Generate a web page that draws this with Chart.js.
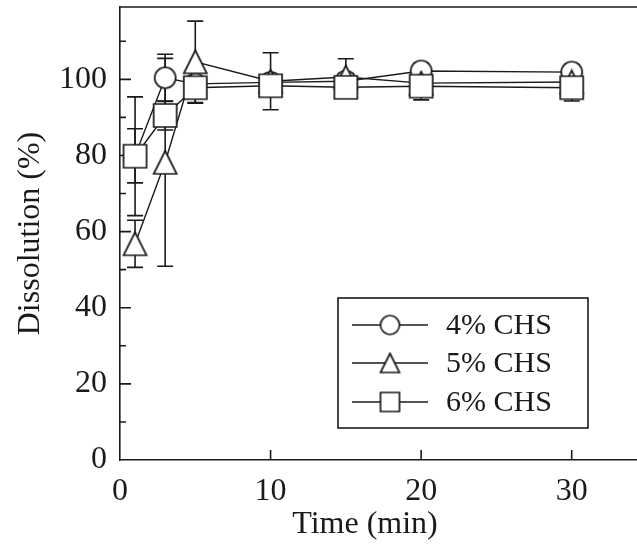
<!DOCTYPE html>
<html>
<head>
<meta charset="utf-8">
<script src="https://cdn.jsdelivr.net/npm/chart.js@4.4.1/dist/chart.umd.min.js"></script>
<style>
    html, body { margin: 0; padding: 0; background: #fff; overflow: hidden; }
    #wrap { position: relative; width: 660px; height: 552px; }
</style>
</head>
<body>
<div id="wrap"><canvas id="dissolutionChart" width="660" height="552"></canvas></div>
<script>
// ============================================
// DATA
// ============================================
const timePoints = [1, 3, 5, 10, 15, 20, 30];
const seriesNames = ['4% CHS', '5% CHS', '6% CHS'];

const chs4Values = [79.9, 100.4, 98.8, 99.2, 99.5, 102.2, 101.9];
const chs4Errors = [7.1, 6.2, 3, 2, 2, 2, 2];
const chs5Values = [56.8, 78.2, 104.6, 99.5, 100.6, 99, 99.3];
const chs5Errors = [6.2, 27.3, 10.7, 7.5, 4.8, 2, 2];
const chs6Values = [79.8, 90.5, 97.8, 98.3, 97.9, 98.2, 97.8];
const chs6Errors = [15.6, 3.8, 4.1, 2.5, 2.5, 3.6, 3.5];

const xTickValues = [0, 10, 20, 30];
const yTickValues = [0, 20, 40, 60, 80, 100];
const yMinorTickValues = [10, 30, 50, 70, 90, 110];

const FONT = "'Liberation Serif', 'Times New Roman', serif";
const INK = '#1a1a1a';

/**
 * Marker images (white filled, black outline)
 */
function makeMarker(shape, size) {
    const c = document.createElement('canvas');
    c.width = size + 4;
    c.height = size + 4;
    const g = c.getContext('2d');
    const m = c.width / 2, h = size / 2;
    g.fillStyle = '#fff';
    g.strokeStyle = INK;
    g.lineWidth = 1.7;
    g.beginPath();
    if (shape === 'circle') {
        g.arc(m, m, h, 0, Math.PI * 2);
    } else if (shape === 'triangle') {
        g.moveTo(m, m - h);
        g.lineTo(m + h, m + h);
        g.lineTo(m - h, m + h);
        g.closePath();
    } else {
        g.rect(m - h, m - h, size, size);
    }
    g.fill();
    g.stroke();
    return c;
}

const markers = {
    circle: makeMarker('circle', 21),
    triangle: makeMarker('triangle', 23),
    square: makeMarker('square', 23)
};
const legendMarkers = {
    circle: makeMarker('circle', 19),
    triangle: makeMarker('triangle', 19),
    square: makeMarker('square', 19)
};

function toPoints(values) {
    return timePoints.map((t, i) => ({ x: t, y: values[i] }));
}

function makeDataset(label, values, errors, shape, order) {
    return {
        label: label,
        data: toPoints(values),
        errors: errors,
        shape: shape,
        order: order,
        borderColor: INK,
        borderWidth: 1.4,
        backgroundColor: '#fff',
        fill: false,
        tension: 0,
        pointStyle: markers[shape],
        // image markers ignore the radius; keep it small so the layout does not pad for it
        pointRadius: 3,
        pointBorderWidth: 0,
        pointHoverRadius: 3
    };
}

/**
 * Error bars, drawn under the lines and markers
 */
const errorBars = {
    id: 'errorBars',
    beforeDatasetsDraw(chart) {
        const { ctx, scales: { x, y } } = chart;
        ctx.save();
        ctx.strokeStyle = INK;
        ctx.lineWidth = 1.6;
        chart.data.datasets.forEach(ds => {
            ds.data.forEach((p, i) => {
                const e = ds.errors[i];
                const px = x.getPixelForValue(p.x);
                const top = y.getPixelForValue(p.y + e);
                const bot = y.getPixelForValue(p.y - e);
                ctx.beginPath();
                ctx.moveTo(px, top); ctx.lineTo(px, bot);
                ctx.moveTo(px - 8, top); ctx.lineTo(px + 8, top);
                ctx.moveTo(px - 8, bot); ctx.lineTo(px + 8, bot);
                ctx.stroke();
            });
        });
        ctx.restore();
    }
};

/**
 * Top frame line and inward ticks
 */
const frameTicks = {
    id: 'frameTicks',
    beforeDatasetsDraw(chart) {
        const { ctx, chartArea: a, scales: { x, y } } = chart;
        ctx.save();
        ctx.strokeStyle = INK;
        ctx.lineWidth = 1.6;
        ctx.beginPath();
        ctx.moveTo(a.left, a.top);
        ctx.lineTo(chart.width, a.top);
        xTickValues.forEach(v => {
            if (v === 0) return;
            const px = x.getPixelForValue(v);
            ctx.moveTo(px, a.bottom);
            ctx.lineTo(px, a.bottom - 10);
        });
        yTickValues.forEach(v => {
            if (v === 0) return;
            const py = y.getPixelForValue(v);
            ctx.moveTo(a.left, py);
            ctx.lineTo(a.left + 11, py);
        });
        yMinorTickValues.forEach(v => {
            const py = y.getPixelForValue(v);
            ctx.moveTo(a.left, py);
            ctx.lineTo(a.left + 6, py);
        });
        ctx.stroke();
        ctx.restore();
    }
};

/**
 * Legend box inside the plot + x axis title
 */
const boxLegend = {
    id: 'boxLegend',
    afterDraw(chart) {
        const { ctx } = chart;
        ctx.save();
        ctx.strokeStyle = INK;
        ctx.lineWidth = 1.6;
        ctx.strokeRect(338, 298, 250, 130);

        const rows = [325, 363, 402];
        chart.data.datasets.forEach((ds, i) => {
            const ry = rows[i];
            ctx.beginPath();
            ctx.lineWidth = 1.4;
            ctx.moveTo(352, ry);
            ctx.lineTo(428, ry);
            ctx.stroke();
            const img = legendMarkers[ds.shape];
            ctx.drawImage(img, 390 - img.width / 2, ry - img.height / 2);
            ctx.fillStyle = INK;
            ctx.font = '30px ' + FONT;
            ctx.textAlign = 'left';
            ctx.textBaseline = 'middle';
            ctx.fillText(ds.label, 446, ry + 1);
        });

        // x axis title
        ctx.font = '32px ' + FONT;
        ctx.textAlign = 'center';
        ctx.textBaseline = 'middle';
        ctx.fillStyle = INK;
        ctx.fillText('Time (min)', 365, 525);
        ctx.restore();
    }
};

const chartCtx = document.getElementById('dissolutionChart');
const dissolutionChart = new Chart(chartCtx, {
    type: 'line',
    data: {
        datasets: [
            makeDataset(seriesNames[0], chs4Values, chs4Errors, 'circle', 3),
            makeDataset(seriesNames[1], chs5Values, chs5Errors, 'triangle', 2),
            makeDataset(seriesNames[2], chs6Values, chs6Errors, 'square', 1)
        ]
    },
    options: {
        responsive: false,
        animation: false,
        layout: { padding: { top: 7, right: 13, left: 0, bottom: 0 } },
        plugins: {
            legend: { display: false },
            tooltip: { enabled: false }
        },
        scales: {
            x: {
                type: 'linear',
                min: 0,
                max: 35,
                afterBuildTicks: s => { s.ticks = xTickValues.map(v => ({ value: v })); },
                afterFit: s => { s.height = 92; s.paddingLeft = 0; s.paddingRight = 0; },
                grid: { display: false, drawTicks: false },
                border: { display: true, color: INK, width: 1.6 },
                ticks: {
                    color: INK,
                    padding: 12,
                    maxRotation: 0,
                    font: { family: FONT, size: 32 }
                }
            },
            y: {
                type: 'linear',
                min: 0,
                max: 119,
                afterBuildTicks: s => { s.ticks = yTickValues.map(v => ({ value: v })); },
                afterFit: s => { s.width = 120; s.paddingTop = 0; s.paddingBottom = 0; },
                grid: { display: false, drawTicks: false },
                border: { display: true, color: INK, width: 1.6 },
                ticks: {
                    color: INK,
                    padding: 13,
                    font: { family: FONT, size: 32 }
                },
                title: {
                    display: true,
                    text: 'Dissolution (%)',
                    color: INK,
                    font: { family: FONT, size: 32, lineHeight: 1 },
                    padding: { top: 15, bottom: 0 }
                }
            }
        }
    },
    plugins: [frameTicks, errorBars, boxLegend]
});
</script>
</body>
</html>
